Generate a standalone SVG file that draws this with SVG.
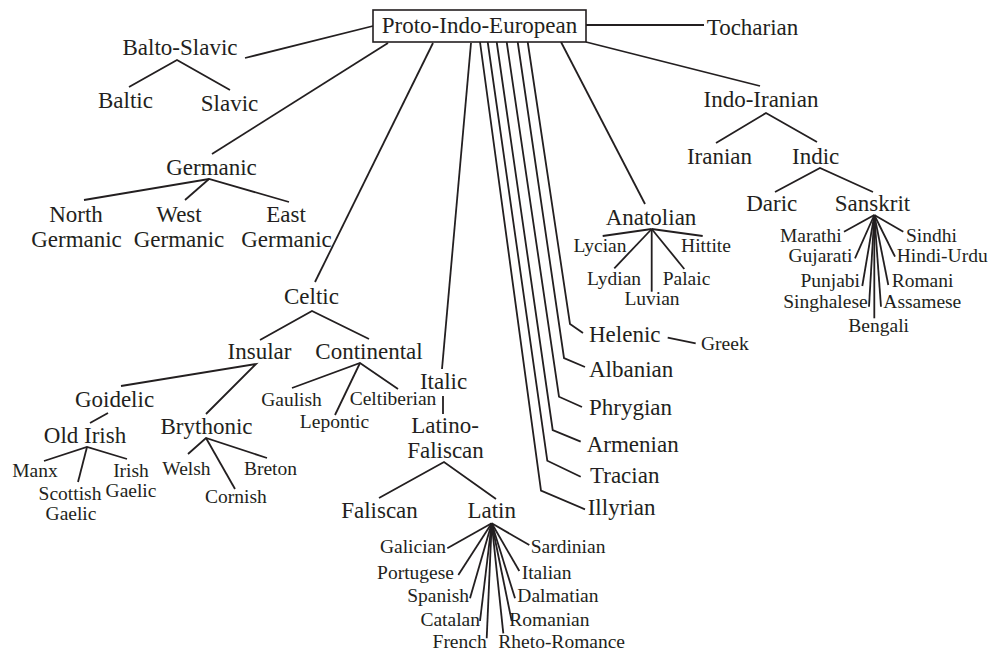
<svg xmlns="http://www.w3.org/2000/svg" width="991" height="652" viewBox="0 0 991 652">
<style>
  text { font-family: "Liberation Serif", "Times New Roman", serif; fill: #231f20; }
  .L { font-size: 23px; text-anchor: middle; }
  .Ls { font-size: 23px; text-anchor: start; }
  .S { font-size: 19.5px; text-anchor: middle; }
  .Ss { font-size: 19.5px; text-anchor: start; }
  .Se { font-size: 19.5px; text-anchor: end; }
  .c { fill: none; stroke: #231f20; stroke-width: 1.8; stroke-linejoin: miter; }
  .box { fill: #ffffff; stroke: #231f20; stroke-width: 1.6; }
</style>
<rect width="991" height="652" fill="#ffffff"/>

<g id="connectors">
  <line class="c" x1="586" y1="25" x2="704" y2="25"/>
  <line class="c" x1="373" y1="26" x2="245" y2="58"/>
  <polyline class="c" points="129,87 177,60 230,90"/>
  <line class="c" x1="388" y1="43" x2="212" y2="154"/>
  <polyline class="c" points="84,200 209,179 289,202"/>
  <line class="c" x1="185" y1="200" x2="209" y2="179"/>
  <line class="c" x1="433" y1="43" x2="315" y2="282"/>
  <polyline class="c" points="260,340 312,311 369,339"/>
  <polyline class="c" points="121,386 256,364 206,414"/>
  <line class="c" x1="108" y1="413" x2="90" y2="423"/>
  <polyline class="c" points="44,461 87,447 127,459"/>
  <line class="c" x1="87" y1="447" x2="78" y2="482"/>
  <polyline class="c" points="188,454 206,438 267,458"/>
  <line class="c" x1="206" y1="438" x2="235" y2="489"/>
  <polyline class="c" points="292,388 360,363 398,389"/>
  <line class="c" x1="360" y1="363" x2="335" y2="415"/>
  <line class="c" x1="471" y1="43" x2="442" y2="369"/>
  <line class="c" x1="443" y1="396" x2="443" y2="414"/>
  <polyline class="c" points="379,498 444,462 496,499"/>
  <!-- Latin fan -->
  <g>
    <line class="c" x1="491.7" y1="523.3" x2="447.3" y2="548.3"/>
    <line class="c" x1="491.7" y1="523.3" x2="458.3" y2="575"/>
    <line class="c" x1="491.7" y1="523.3" x2="470" y2="598.3"/>
    <line class="c" x1="491.7" y1="523.3" x2="480" y2="621"/>
    <line class="c" x1="491.7" y1="523.3" x2="486.7" y2="638.3"/>
    <line class="c" x1="491.7" y1="523.3" x2="529.3" y2="545"/>
    <line class="c" x1="491.7" y1="523.3" x2="519.3" y2="571"/>
    <line class="c" x1="491.7" y1="523.3" x2="515" y2="598.3"/>
    <line class="c" x1="491.7" y1="523.3" x2="511.7" y2="621"/>
    <line class="c" x1="491.7" y1="523.3" x2="503.3" y2="633.3"/>
  </g>
  <!-- parallel fan -->
  <polyline class="c" points="527.7,42 570,324 583,333"/>
  <polyline class="c" points="517.7,42 564,358 585,367"/>
  <polyline class="c" points="506.7,42 559,396.7 582,407"/>
  <polyline class="c" points="496.7,42 552.7,430 580.7,441.7"/>
  <polyline class="c" points="487.7,42 547.3,460.7 580.7,476.7"/>
  <polyline class="c" points="480,42 541,490.7 585,509.3"/>
  <line class="c" x1="667.7" y1="337.7" x2="695.7" y2="343.3"/>
  <line class="c" x1="561" y1="42" x2="645" y2="204"/>
  <!-- Anatolian fan -->
  <g>
    <line class="c" x1="651.7" y1="229" x2="602.7" y2="236"/>
    <line class="c" x1="651.7" y1="229" x2="702.7" y2="236"/>
    <line class="c" x1="651.7" y1="229" x2="614.3" y2="268.3"/>
    <line class="c" x1="651.7" y1="229" x2="651.7" y2="291.7"/>
    <line class="c" x1="651.7" y1="229" x2="684.3" y2="269"/>
  </g>
  <line class="c" x1="586" y1="42" x2="760" y2="86"/>
  <polyline class="c" points="716,143 766,113 817,142"/>
  <polyline class="c" points="775,192 820,168 873,192"/>
  <!-- Sanskrit fan -->
  <g>
    <line class="c" x1="874.3" y1="215" x2="844" y2="231.7"/>
    <line class="c" x1="874.3" y1="215" x2="855" y2="258.3"/>
    <line class="c" x1="874.3" y1="215" x2="862.3" y2="286"/>
    <line class="c" x1="874.3" y1="215" x2="869" y2="306.7"/>
    <line class="c" x1="874.3" y1="215" x2="874.3" y2="318.3"/>
    <line class="c" x1="874.3" y1="215" x2="881" y2="306.7"/>
    <line class="c" x1="874.3" y1="215" x2="888.3" y2="285"/>
    <line class="c" x1="874.3" y1="215" x2="895" y2="256.7"/>
    <line class="c" x1="874.3" y1="215" x2="903.3" y2="231.7"/>
  </g>
</g>

<g id="pie"><rect class="box" x="373" y="10" width="213" height="32"/><text class="L" x="479.5" y="33">Proto-Indo-European</text></g>
<g id="tocharian"><text class="Ls" x="706.7" y="35">Tocharian</text></g>
<g id="balto-slavic"><text class="L" x="180" y="55">Balto-Slavic</text></g>
<g id="baltic"><text class="L" x="125.5" y="108">Baltic</text></g>
<g id="slavic"><text class="L" x="229.5" y="111">Slavic</text></g>
<g id="germanic"><text class="L" x="211.5" y="175">Germanic</text></g>
<g id="north-germanic"><text class="L" x="76" y="222">North</text><text class="L" x="76.5" y="247">Germanic</text></g>
<g id="west-germanic"><text class="L" x="179" y="222">West</text><text class="L" x="179" y="247">Germanic</text></g>
<g id="east-germanic"><text class="L" x="286" y="222">East</text><text class="L" x="286.5" y="247">Germanic</text></g>
<g id="celtic"><text class="L" x="311.5" y="304">Celtic</text></g>
<g id="insular"><text class="L" x="259.5" y="359">Insular</text></g>
<g id="continental"><text class="L" x="369" y="359">Continental</text></g>
<g id="goidelic"><text class="L" x="114.5" y="407">Goidelic</text></g>
<g id="old-irish"><text class="L" x="85" y="443">Old Irish</text></g>
<g id="brythonic"><text class="L" x="206.5" y="434">Brythonic</text></g>
<g id="manx"><text class="S" x="35" y="477">Manx</text></g>
<g id="irish-gaelic"><text class="S" x="131" y="477">Irish</text><text class="S" x="131" y="497">Gaelic</text></g>
<g id="scottish-gaelic"><text class="S" x="70" y="500">Scottish</text><text class="S" x="71" y="520">Gaelic</text></g>
<g id="welsh"><text class="S" x="186.5" y="475">Welsh</text></g>
<g id="breton"><text class="S" x="270.5" y="475">Breton</text></g>
<g id="cornish"><text class="S" x="236" y="503">Cornish</text></g>
<g id="gaulish"><text class="S" x="291.5" y="406">Gaulish</text></g>
<g id="lepontic"><text class="S" x="334.5" y="428">Lepontic</text></g>
<g id="celtiberian"><text class="S" x="393" y="405">Celtiberian</text></g>
<g id="italic"><text class="L" x="443.5" y="389">Italic</text></g>
<g id="latino-faliscan"><text class="L" x="445" y="433">Latino-</text><text class="L" x="445.5" y="458">Faliscan</text></g>
<g id="faliscan"><text class="L" x="379.5" y="518">Faliscan</text></g>
<g id="latin"><text class="L" x="491.7" y="518">Latin</text></g>
<g id="galician"><text class="Se" x="446" y="552.7">Galician</text></g>
<g id="portugese"><text class="Se" x="454" y="579">Portugese</text></g>
<g id="spanish"><text class="Se" x="469" y="602.3">Spanish</text></g>
<g id="catalan"><text class="Se" x="480" y="626">Catalan</text></g>
<g id="french"><text class="Se" x="486.7" y="648.3">French</text></g>
<g id="sardinian"><text class="Ss" x="530.7" y="552.7">Sardinian</text></g>
<g id="italian"><text class="Ss" x="521.7" y="579">Italian</text></g>
<g id="dalmatian"><text class="Ss" x="517.3" y="602.3">Dalmatian</text></g>
<g id="romanian"><text class="Ss" x="509.3" y="626">Romanian</text></g>
<g id="rheto-romance"><text class="Ss" x="498.3" y="648.3">Rheto-Romance</text></g>
<g id="helenic"><text class="Ls" x="589" y="341.7">Helenic</text></g>
<g id="greek"><text class="Ss" x="701" y="350">Greek</text></g>
<g id="albanian"><text class="Ls" x="589" y="376.7">Albanian</text></g>
<g id="phrygian"><text class="Ls" x="589" y="415">Phrygian</text></g>
<g id="armenian"><text class="Ls" x="586.7" y="451.7">Armenian</text></g>
<g id="tracian"><text class="Ls" x="590" y="483">Tracian</text></g>
<g id="illyrian"><text class="Ls" x="587.7" y="515">Illyrian</text></g>
<g id="anatolian"><text class="L" x="651" y="225">Anatolian</text></g>
<g id="lycian"><text class="S" x="600" y="251.7">Lycian</text></g>
<g id="hittite"><text class="S" x="706" y="252">Hittite</text></g>
<g id="lydian"><text class="S" x="614" y="285">Lydian</text></g>
<g id="palaic"><text class="S" x="686.5" y="285">Palaic</text></g>
<g id="luvian"><text class="S" x="652" y="305">Luvian</text></g>
<g id="indo-iranian"><text class="L" x="761" y="107.3">Indo-Iranian</text></g>
<g id="iranian"><text class="L" x="719.5" y="164">Iranian</text></g>
<g id="indic"><text class="L" x="815.7" y="164">Indic</text></g>
<g id="daric"><text class="L" x="771.7" y="210.7">Daric</text></g>
<g id="sanskrit"><text class="L" x="872.5" y="210.7">Sanskrit</text></g>
<g id="marathi"><text class="Se" x="841.7" y="241.7">Marathi</text></g>
<g id="gujarati"><text class="Se" x="852.3" y="261.7">Gujarati</text></g>
<g id="punjabi"><text class="Se" x="860" y="286.7">Punjabi</text></g>
<g id="singhalese"><text class="Se" x="867.7" y="307.7">Singhalese</text></g>
<g id="bengali"><text class="S" x="878.7" y="331.7">Bengali</text></g>
<g id="sindhi"><text class="Ss" x="906" y="241.7">Sindhi</text></g>
<g id="hindi-urdu"><text class="Ss" x="896.7" y="261.7">Hindi-Urdu</text></g>
<g id="romani"><text class="Ss" x="891.7" y="286.7">Romani</text></g>
<g id="assamese"><text class="Ss" x="883.3" y="307.7">Assamese</text></g>
</svg>
